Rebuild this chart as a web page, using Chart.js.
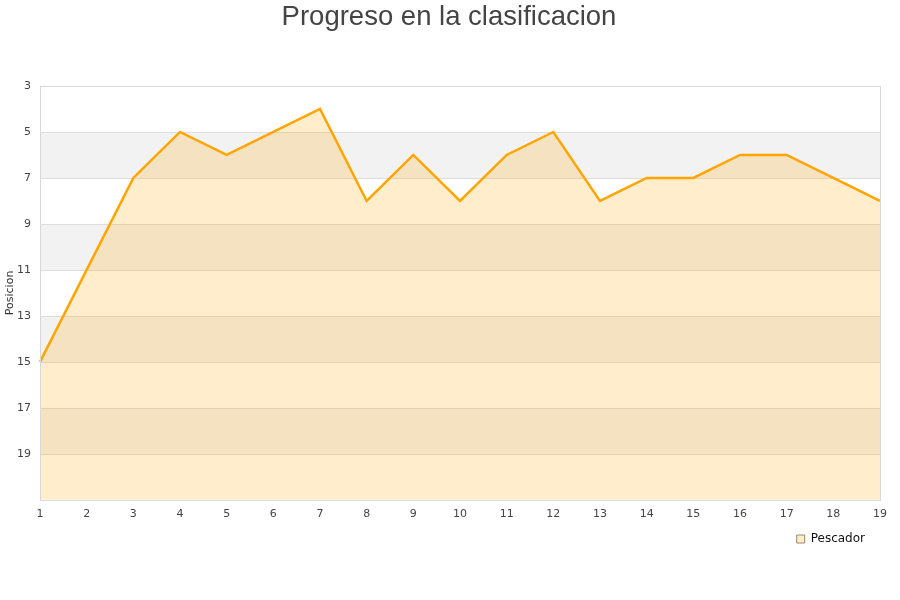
<!DOCTYPE html>
<html>
<head>
<meta charset="utf-8">
<script src="https://cdn.jsdelivr.net/npm/chart.js@4/dist/chart.umd.min.js"></script>
<style>
  body { margin: 0; background: #fff; }
  #wrap { width: 900px; height: 600px; }
</style>
</head>
<body>
<div id="wrap"><canvas id="chart"></canvas></div>
<script>
// jornadas y posiciones
const jornadas = [1, 2, 3, 4, 5, 6, 7, 8, 9, 10, 11, 12, 13, 14, 15, 16, 17, 18, 19];
const posiciones = [15, 11, 7, 5, 6, 5, 4, 8, 6, 8, 6, 5, 8, 7, 7, 6, 6, 7, 8];
const yTicks = [3, 5, 7, 9, 11, 13, 15, 17, 19];

// grey bands between every other pair of ticks + plot border
const bandsPlugin = {
  id: "bands",
  afterLayout(chart) {
    // legend sits a bit left of the plot's right edge
    if (chart.legend) {
      chart.legend.left -= 11;
      chart.legend.right -= 11;
    }
  },
  beforeDatasetsDraw(chart) {
    const { ctx, chartArea, scales } = chart;
    const y = scales.y;
    ctx.save();
    ctx.fillStyle = "#f2f2f2";
    for (let v = 5; v < 21; v += 4) {
      const top = y.getPixelForValue(v);
      const bot = y.getPixelForValue(v + 2);
      ctx.fillRect(chartArea.left, top, chartArea.right - chartArea.left, bot - top);
    }
    ctx.strokeStyle = "#dddddd";
    ctx.lineWidth = 1;
    for (let v = 5; v <= 19; v += 2) {
      const p = Math.round(y.getPixelForValue(v)) + 0.5;
      ctx.beginPath();
      ctx.moveTo(chartArea.left, p);
      ctx.lineTo(chartArea.right, p);
      ctx.stroke();
    }
    ctx.restore();
  },
  afterDraw(chart) {
    const { ctx, chartArea } = chart;
    ctx.save();
    ctx.strokeStyle = "#d8d8d8";
    ctx.lineWidth = 1;
    ctx.strokeRect(
      Math.round(chartArea.left) + 0.5,
      Math.round(chartArea.top) + 0.5,
      Math.round(chartArea.right - chartArea.left),
      Math.round(chartArea.bottom - chartArea.top)
    );
    ctx.restore();
  },
};

const ctx = document.getElementById("chart").getContext("2d");
new Chart(ctx, {
  type: "line",
  data: {
    labels: jornadas,
    datasets: [
      {
        label: "Pescador",
        data: posiciones,
        borderColor: "#ffa500",
        backgroundColor: "rgba(255, 165, 0, 0.2)",
        borderWidth: 2.5,
        fill: { value: 21 },
        pointRadius: 0,
        tension: 0,
      },
    ],
  },
  options: {
    responsive: true,
    maintainAspectRatio: false,
    animation: false,
    layout: { padding: { left: 18, right: 20, top: 0, bottom: 45 } },
    plugins: {
      title: {
        display: true,
        text: "Progreso en la clasificacion",
        color: "#444",
        font: { family: "Liberation Sans", size: 27.5, weight: "normal" },
        padding: { top: 1, bottom: 52 },
      },
      legend: {
        position: "bottom",
        align: "end",
        labels: {
          color: "#111",
          boxWidth: 8,
          boxHeight: 8,
          padding: 4,
          font: { family: "DejaVu Sans", size: 12 },
          generateLabels(chart) {
            return chart.data.datasets.map((ds, i) => ({
              text: ds.label,
              fillStyle: "#feedcb",
              strokeStyle: "#9a8a6a",
              lineWidth: 1,
              fontColor: "#111",
              datasetIndex: i,
            }));
          },
        },
      },
      tooltip: { enabled: false },
    },
    scales: {
      x: {
        type: "category",
        offset: false,
        grid: { display: false, drawTicks: false },
        border: { display: false },
        ticks: {
          color: "#444",
          font: { family: "DejaVu Sans", size: 11 },
          maxRotation: 0,
          autoSkip: false,
          padding: 8,
        },
      },
      y: {
        reverse: true,
        min: 3,
        max: 21,
        grid: { display: false, drawTicks: false },
        border: { display: false },
        afterBuildTicks(axis) {
          axis.ticks = yTicks.map((v) => ({ value: v }));
        },
        afterFit(axis) {
          axis.width = 22;
        },
        ticks: {
          color: "#444",
          font: { family: "DejaVu Sans", size: 11 },
          padding: 9,
        },
        title: {
          display: true,
          text: "Posicion",
          color: "#333",
          font: { family: "DejaVu Sans", size: 11 },
          padding: { top: -14, bottom: 0 },
        },
      },
    },
  },
  plugins: [bandsPlugin],
});
</script>
</body>
</html>
